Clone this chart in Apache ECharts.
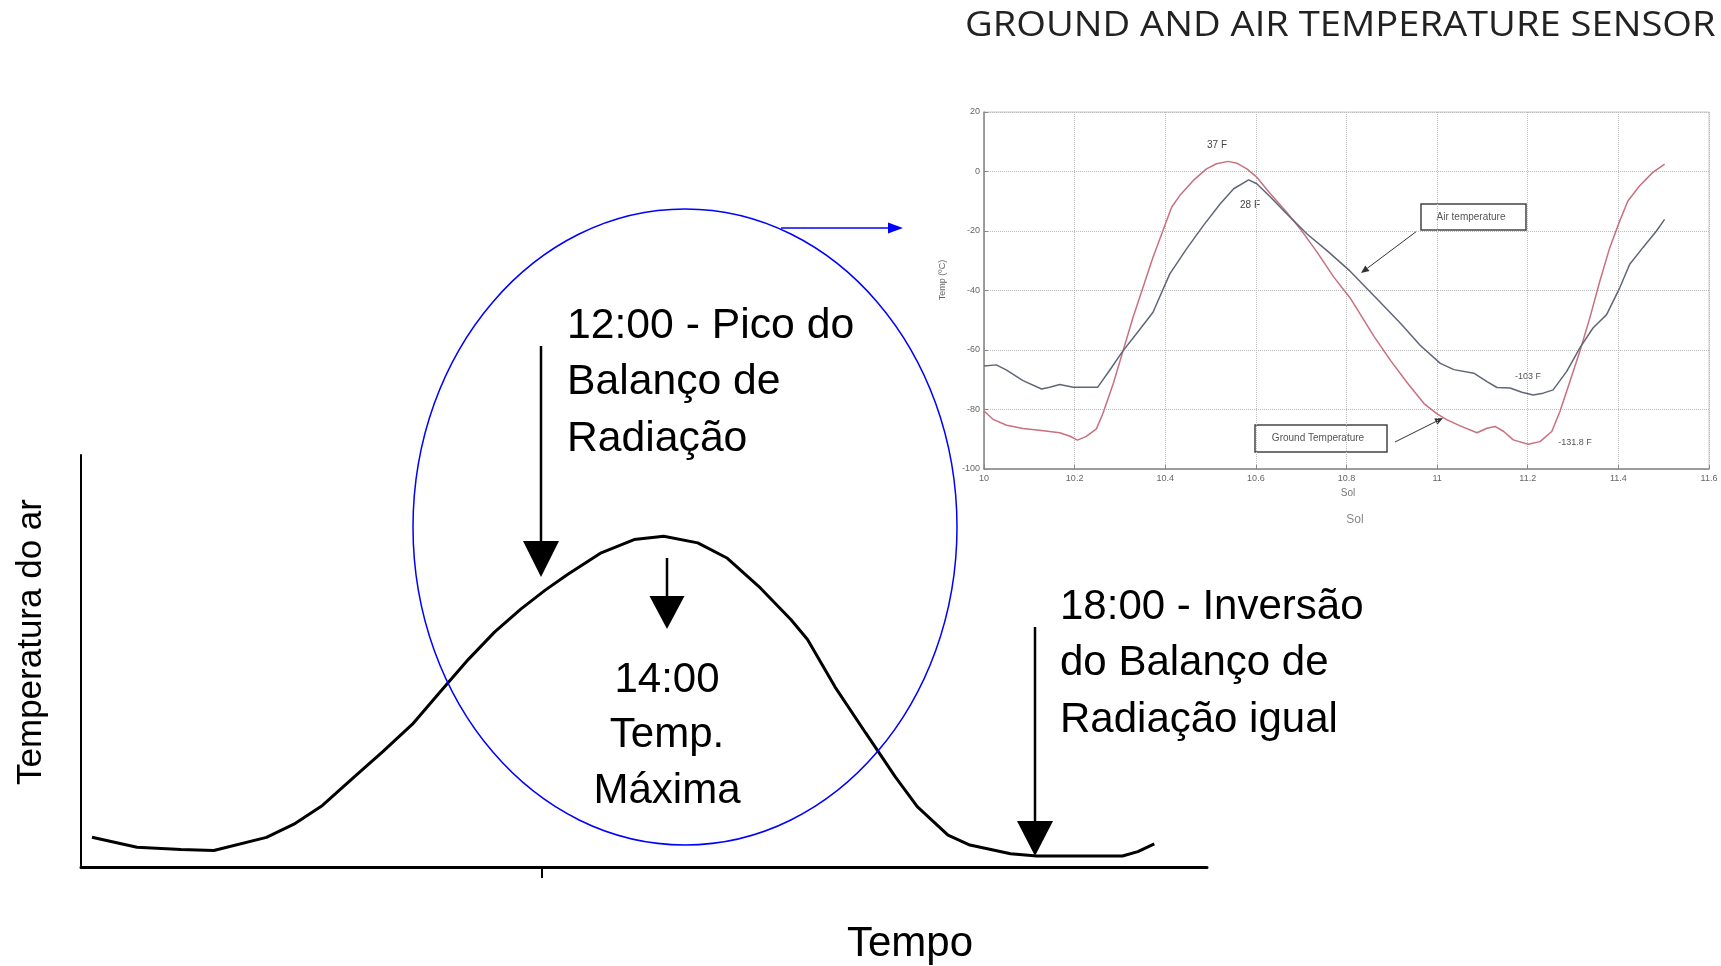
<!DOCTYPE html>
<html>
<head>
<meta charset="utf-8">
<title>Temperatura do ar</title>
<script src="https://cdn.jsdelivr.net/npm/echarts@6/dist/echarts.min.js"></script>
<style>
  html, body { margin: 0; padding: 0; background: #fff; }
  #chart { width: 1721px; height: 966px; }
</style>
</head>
<body>
<div id="chart"></div>
<script>
  // curva principal: temperatura do ar ao longo do dia (unidades arbitrárias)
  const tempoX = [10, 51, 91, 121, 169, 194, 220, 249, 275, 302, 326, 353, 377, 401, 423, 443, 474, 504, 531,
    562, 589, 619, 647, 662, 687, 715, 742, 762, 790, 810, 847, 871, 949, 963, 978]
  const temperaturaY = [27, 18, 16, 15, 27, 39, 56, 82, 105, 130, 158, 189, 214, 235, 252, 266, 286, 298, 301,
    295, 281, 254, 225, 207, 164, 122, 82, 55, 29, 20, 12, 10, 10, 14, 21]
  const ticksTempo = [420]

  // gráfico inserido: sensor de temperatura do solo e do ar
  const solGround = [10.0, 10.02, 10.05, 10.086, 10.122, 10.167, 10.19, 10.206, 10.225, 10.248, 10.262, 10.285,
    10.307, 10.329, 10.351, 10.373, 10.395, 10.414, 10.432, 10.462, 10.491, 10.513, 10.539, 10.558, 10.58, 10.602,
    10.632, 10.668, 10.698, 10.735, 10.772, 10.808, 10.861, 10.897, 10.934, 10.971, 11.0, 11.022, 11.051, 11.088,
    11.11, 11.128, 11.147, 11.168, 11.201, 11.227, 11.253, 11.271, 11.293, 11.315, 11.337, 11.359, 11.381, 11.403,
    11.421, 11.447, 11.476, 11.502]
  const groundTemp = [-80.5, -83.3, -85.3, -86.4, -87.0, -87.8, -89.0, -90.3, -89.1, -86.5, -81.5, -71.4,
    -60.2, -49.0, -38.9, -28.8, -19.8, -12.0, -8.1, -3.0, 0.9, 2.6, 3.4, 2.8, 0.9, -1.9,
    -7.5, -13.7, -19.3, -27.1, -35.5, -42.5, -55.5, -63.5, -71.0, -78.0, -81.5, -83.5, -85.5, -87.8,
    -86.3, -85.7, -87.4, -90.2, -91.7, -90.8, -87.4, -80.7, -70.6, -60.4, -49.2, -36.9, -25.6, -16.6,
    -9.9, -4.8, -0.3, 2.5]
  const solAir = [10.0, 10.027, 10.049, 10.086, 10.127, 10.145, 10.167, 10.197, 10.225, 10.251, 10.277, 10.307,
    10.336, 10.373, 10.41, 10.447, 10.484, 10.521, 10.551, 10.584, 10.602, 10.632, 10.668, 10.713, 10.757, 10.808,
    10.875, 10.919, 10.963, 11.007, 11.037, 11.081, 11.11, 11.132, 11.161, 11.187, 11.212, 11.234, 11.256, 11.286,
    11.315, 11.344, 11.374, 11.403, 11.425, 11.454, 11.484, 11.502]
  const airTemp = [-65.4, -65.0, -66.7, -70.3, -73.1, -72.5, -71.6, -72.5, -72.5, -72.5, -66.9, -60.2,
    -54.6, -47.3, -34.4, -26.0, -18.2, -10.9, -5.8, -2.8, -4.1, -8.6, -14.2, -21.0, -26.6, -33.5,
    -44.0, -51.0, -58.5, -64.5, -66.6, -67.8, -70.6, -72.6, -72.8, -74.2, -75.1, -74.5, -73.4, -67.2,
    -59.3, -52.6, -48.1, -39.1, -31.2, -25.6, -20.0, -16.1]

  // textos
  const textoPico = ['12:00 - Pico do', 'Balanço de', 'Radiação']
  const textoMaxima = ['14:00', 'Temp.', 'Máxima']
  const textoInversao = ['18:00 - Inversão', 'do Balanço de', 'Radiação igual']

  const fonte = '"Liberation Sans", Arial, sans-serif'
  const chart = echarts.init(document.getElementById('chart'))

  // seta: linha + cabeça triangular
  const seta = (x1, y1, x2, y2, cor, largura, cab, meia) => {
    const ang = Math.atan2(y2 - y1, x2 - x1)
    const bx = x2 - cab * Math.cos(ang)
    const by = y2 - cab * Math.sin(ang)
    const px = -Math.sin(ang) * meia
    const py = Math.cos(ang) * meia
    return [
      { type: 'line', shape: { x1, y1, x2: bx, y2: by }, style: { stroke: cor, lineWidth: largura } },
      { type: 'polygon', shape: { points: [[x2, y2], [bx + px, by + py], [bx - px, by - py]] }, style: { fill: cor } }
    ]
  }

  const linhas = (lista, x, y0, passo, align, tam) =>
    lista.map((t, i) => ({
      type: 'text', x, y: y0 + i * passo,
      style: { text: t, font: tam + 'px ' + fonte, fill: '#000', align, verticalAlign: 'middle' }
    }))

  const texto = (t, x, y, tam, cor, extra) => Object.assign({
    type: 'text', x, y,
    style: { text: t, font: tam + 'px ' + fonte, fill: cor, align: 'center', verticalAlign: 'middle' }
  }, extra || {})

  const graficos = [
    // elipse azul e seta para o gráfico inserido
    { type: 'ellipse', shape: { cx: 685, cy: 527, rx: 272, ry: 318 },
      style: { fill: 'transparent', stroke: '#0000ff', lineWidth: 1.5 }, z: 10 },
    ...seta(781, 228, 903, 228, '#0000ff', 1.5, 15, 5.5),
    // setas pretas
    ...seta(541, 346, 541, 577, '#000', 2.5, 36, 18),
    ...seta(667, 558, 667, 629, '#000', 2.5, 33, 17.5),
    ...seta(1035, 627, 1035, 856, '#000', 2.5, 35, 18),
    ...linhas(textoPico, 567, 326, 56.5, 'left', 42.7),
    ...linhas(textoMaxima, 667, 680, 55.5, 'center', 42),
    ...linhas(textoInversao, 1060, 607, 56.5, 'left', 42),
    texto('Tempo', 910, 944, 42, '#000'),
    texto('Temperatura do ar', 31, 642, 35, '#000', { rotation: Math.PI / 2 }),
    // título do gráfico inserido
    { type: 'text', x: 965, y: 26, scaleX: 1.09,
      style: { text: 'GROUND AND AIR TEMPERATURE SENSOR', font: '35px "Open Sans", sans-serif', fill: '#222',
        align: 'left', verticalAlign: 'middle' } },
    texto('Temp (ºC)', 943, 280, 9, '#666', { rotation: Math.PI / 2 }),
    texto('Sol', 1348, 493, 10, '#777'),
    texto('Sol', 1355, 520, 12, '#888'),
    texto('37 F', 1217, 145, 10, '#444'),
    texto('28 F', 1250, 205, 10, '#444'),
    texto('-103 F', 1528, 377, 9, '#555'),
    texto('-131.8 F', 1575, 443, 9, '#555'),
    // caixas de legenda
    { type: 'rect', shape: { x: 1421, y: 204, width: 105, height: 26 },
      style: { fill: '#fff', stroke: '#444', lineWidth: 1.5 } },
    texto('Air temperature', 1471, 217, 10, '#555'),
    { type: 'rect', shape: { x: 1255, y: 425, width: 132, height: 27 },
      style: { fill: '#fff', stroke: '#444', lineWidth: 1.5 } },
    texto('Ground Temperature', 1318, 438, 10, '#555'),
    ...seta(1417, 231, 1361, 273, '#333', 1, 8, 3.5),
    ...seta(1395, 442, 1443, 418, '#333', 1, 8, 3.5)
  ]

  chart.setOption({
    backgroundColor: '#fff',
    animation: false,
    grid: [
      { left: 81, top: 455, right: 514, bottom: 99 },
      { left: 984, top: 112, width: 725, height: 357, show: true, borderColor: '#c8c8c8', borderWidth: 1 }
    ],
    xAxis: [
      {
        gridIndex: 0, type: 'value', min: 0, max: 1026,
        axisLine: { onZero: false, lineStyle: { color: '#000', width: 3 } },
        axisTick: { show: true, customValues: ticksTempo, length: 11, lineStyle: { color: '#000', width: 2 } },
        axisLabel: { show: false },
        splitLine: { show: false }
      },
      {
        gridIndex: 1, type: 'value', min: 10, max: 11.6, interval: 0.2,
        axisLine: { onZero: false, lineStyle: { color: '#888', width: 1.5 } },
        axisTick: { inside: true, length: 4, lineStyle: { color: '#888' } },
        axisLabel: { fontSize: 9, color: '#666', margin: 5, fontFamily: fonte },
        splitLine: { show: true, lineStyle: { color: '#bbb', type: 'dotted', width: 1 } }
      }
    ],
    yAxis: [
      {
        gridIndex: 0, type: 'value', min: 0, max: 375,
        axisLine: { show: true, lineStyle: { color: '#000', width: 2 } },
        axisTick: { show: false },
        axisLabel: { show: false },
        splitLine: { show: false }
      },
      {
        gridIndex: 1, type: 'value', min: -100, max: 20, interval: 20,
        axisLine: { show: true, onZero: false, lineStyle: { color: '#888', width: 1.5 } },
        axisTick: { show: true, inside: true, length: 4, lineStyle: { color: '#888' } },
        axisLabel: { fontSize: 9, color: '#666', margin: 4, fontFamily: fonte },
        splitLine: { show: true, lineStyle: { color: '#bbb', type: 'dotted', width: 1 } }
      }
    ],
    series: [
      {
        name: 'Temperatura do ar', type: 'line', xAxisIndex: 0, yAxisIndex: 0,
        data: tempoX.map((x, i) => [x, temperaturaY[i]]),
        showSymbol: false, lineStyle: { color: '#000', width: 3 }
      },
      {
        name: 'Ground Temperature', type: 'line', xAxisIndex: 1, yAxisIndex: 1,
        data: solGround.map((x, i) => [x, groundTemp[i]]),
        showSymbol: false, lineStyle: { color: '#c9707e', width: 1.5 }
      },
      {
        name: 'Air temperature', type: 'line', xAxisIndex: 1, yAxisIndex: 1,
        data: solAir.map((x, i) => [x, airTemp[i]]),
        showSymbol: false, lineStyle: { color: '#5f6676', width: 1.5 }
      }
    ],
    graphic: { elements: graficos }
  })
</script>
</body>
</html>
